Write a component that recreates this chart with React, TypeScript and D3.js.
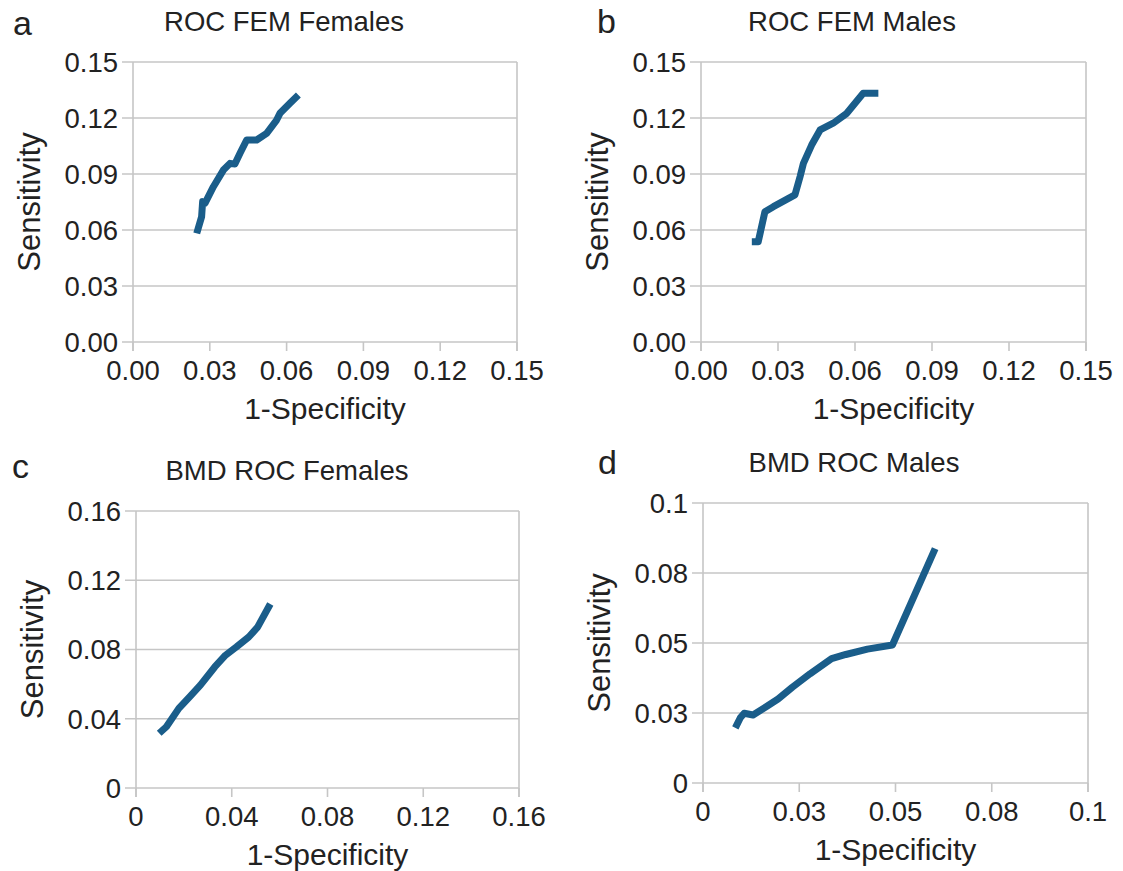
import React from "react";
import * as d3 from "d3";

// ---------- data ----------
const femFemalesX = [0.0249, 0.0268, 0.0272, 0.0281, 0.0314, 0.0353, 0.0379, 0.0398, 0.0418, 0.0444, 0.0483, 0.0522, 0.0561, 0.0574, 0.0613, 0.0646];
const femFemalesY = [0.0582, 0.0671, 0.0752, 0.0743, 0.0832, 0.0921, 0.0957, 0.0954, 0.1011, 0.1082, 0.1082, 0.1118, 0.1189, 0.1225, 0.1279, 0.1323];

const femMalesX = [0.0198, 0.0223, 0.0249, 0.0282, 0.0366, 0.0386, 0.0399, 0.0431, 0.0464, 0.0515, 0.0568, 0.06, 0.0632, 0.0691];
const femMalesY = [0.0537, 0.0537, 0.0698, 0.0725, 0.0788, 0.0886, 0.0957, 0.1055, 0.1136, 0.1172, 0.1225, 0.1279, 0.1332, 0.1332];

const bmdFemalesX = [0.0097, 0.0127, 0.0179, 0.0224, 0.0269, 0.0329, 0.0374, 0.0419, 0.0471, 0.0508, 0.0561];
const bmdFemalesY = [0.0316, 0.0354, 0.046, 0.0527, 0.0594, 0.0699, 0.0767, 0.0814, 0.0872, 0.0929, 0.1063];

const bmdMalesX = [0.0084, 0.0097, 0.0107, 0.013, 0.0167, 0.0195, 0.0232, 0.0278, 0.0334, 0.0371, 0.0427, 0.0492, 0.0603];
const bmdMalesY = [0.0197, 0.0233, 0.0249, 0.0243, 0.0275, 0.03, 0.0342, 0.039, 0.0444, 0.0459, 0.0478, 0.0493, 0.0837];

const femTicks = [0, 0.03, 0.06, 0.09, 0.12, 0.15];
const femTickLabels = ["0.00", "0.03", "0.06", "0.09", "0.12", "0.15"];
const bmdFemTicks = [0, 0.04, 0.08, 0.12, 0.16];
const bmdFemTickLabels = ["0", "0.04", "0.08", "0.12", "0.16"];
const bmdMaleTicks = [0, 0.025, 0.05, 0.075, 0.1];
const bmdMaleTickLabels = ["0", "0.03", "0.05", "0.08", "0.1"];

const panelTitles = ["ROC FEM Females", "ROC FEM Males", "BMD ROC Females", "BMD ROC Males"];
const panelLetters = ["a", "b", "c", "d"];
const xAxisTitle = "1-Specificity";
const yAxisTitle = "Sensitivity";

// ---------- layout ----------
const panels = [
  { xs: femFemalesX, ys: femFemalesY, ticks: femTicks, labels: femTickLabels, left: 133, right: 517, top: 62, bottom: 342, letter: [13, 35] },
  { xs: femMalesX, ys: femMalesY, ticks: femTicks, labels: femTickLabels, left: 701, right: 1086, top: 62, bottom: 342, letter: [597, 33] },
  { xs: bmdFemalesX, ys: bmdFemalesY, ticks: bmdFemTicks, labels: bmdFemTickLabels, left: 136, right: 519, top: 511, bottom: 788, letter: [12, 478] },
  { xs: bmdMalesX, ys: bmdMalesY, ticks: bmdMaleTicks, labels: bmdMaleTickLabels, left: 703, right: 1088, top: 503, bottom: 783, letter: [598, 474] },
];

const GRID = "#c6c6c6";
const LINE = "#1a5d8a";
const TEXT = "#222";
const FONT = "'Liberation Sans', Arial, sans-serif";

function Panel({ p, i }: { p: any; i: number }) {
  const dom = [p.ticks[0], p.ticks[p.ticks.length - 1]];
  const x = d3.scaleLinear().domain(dom).range([p.left, p.right]);
  const y = d3.scaleLinear().domain(dom).range([p.bottom, p.top]);
  const pts: [number, number][] = p.xs.map((v: number, k: number) => [v, p.ys[k]]);
  const line = d3
    .line<[number, number]>()
    .x((d) => x(d[0]))
    .y((d) => y(d[1]));
  const cx = (p.left + p.right) / 2;
  const cy = (p.top + p.bottom) / 2;
  return (
    <g>
      {p.ticks.map((t: number, k: number) => (
        <g key={"y" + k}>
          <line x1={p.left - 11} x2={p.right} y1={y(t)} y2={y(t)} stroke={GRID} strokeWidth={1.6} />
          <text x={p.left - 15} y={y(t)} dy="0.36em" textAnchor="end" fontSize={27.5} fill={TEXT} fontFamily={FONT}>
            {p.labels[k]}
          </text>
        </g>
      ))}
      {p.ticks.map((t: number, k: number) => (
        <g key={"x" + k}>
          <line x1={x(t)} x2={x(t)} y1={p.bottom} y2={p.bottom + 9} stroke={GRID} strokeWidth={1.6} />
          <text x={x(t)} y={p.bottom + 38} textAnchor="middle" fontSize={27.5} fill={TEXT} fontFamily={FONT}>
            {p.labels[k]}
          </text>
        </g>
      ))}
      <line x1={p.left} x2={p.left} y1={p.top} y2={p.bottom + 9} stroke={GRID} strokeWidth={1.6} />
      <line x1={p.right} x2={p.right} y1={p.top} y2={p.bottom + 9} stroke={GRID} strokeWidth={1.6} />
      <path d={line(pts) || ""} fill="none" stroke={LINE} strokeWidth={7} strokeLinejoin="round" strokeLinecap="butt" />
      <text x={p.left + 151} y={p.top - 31} textAnchor="middle" fontSize={27.5} fill={TEXT} fontFamily={FONT}>
        {panelTitles[i]}
      </text>
      <text x={p.letter[0]} y={p.letter[1]} fontSize={34} fill={TEXT} fontFamily={FONT}>
        {panelLetters[i]}
      </text>
      <text x={cx} y={p.bottom + 77} textAnchor="middle" fontSize={30} fill={TEXT} fontFamily={FONT}>
        {xAxisTitle}
      </text>
      <text
        transform={`translate(${p.left - 104},${cy}) rotate(-90)`}
        dy="0.35em"
        textAnchor="middle"
        fontSize={31}
        fill={TEXT}
        fontFamily={FONT}
      >
        {yAxisTitle}
      </text>
    </g>
  );
}

export default function App() {
  return (
    <svg width={1123} height={871} style={{ position: "absolute", left: 0, top: 0, background: "#fff" }}>
      <rect width={1123} height={871} fill="#fff" />
      {panels.map((p, i) => (
        <Panel key={i} p={p} i={i} />
      ))}
    </svg>
  );
}
